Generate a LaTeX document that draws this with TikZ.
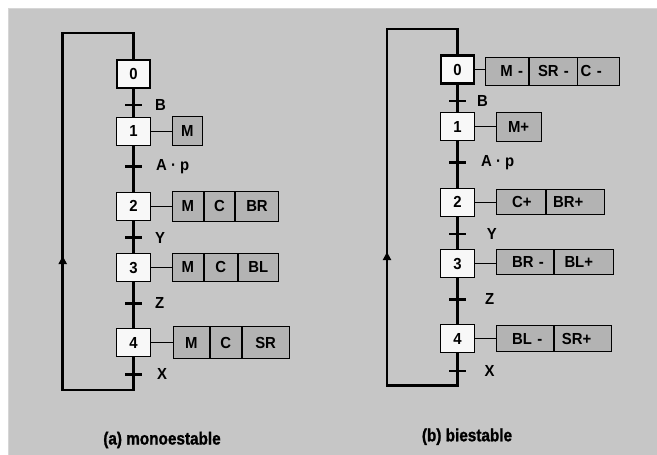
\documentclass[tikz,border=0pt]{standalone}
\usepackage{fontspec}
\setmainfont{Liberation Sans}
\newfontfamily\nodefont{Liberation Sans Bold}[FakeStretch=0.93]
\newfontfamily\capfont{Liberation Sans Bold}[FakeStretch=0.87, FakeBold=1.2]
\usetikzlibrary{arrows.meta}
\definecolor{bggray}{HTML}{C6C6C6}
\definecolor{bgedge}{HTML}{D6D6D6}
\definecolor{actgray}{HTML}{B3B3B3}
\definecolor{stepwhite}{HTML}{F8F8F8}
\begin{document}
\begin{tikzpicture}[x=1pt,y=-1pt,
  every node/.style={font=\nodefont\fontsize{16}{18}\selectfont},
  stepbox/.style={draw, fill=stepwhite, line width=0.9pt, minimum width=34pt, minimum height=28pt, inner sep=0pt},
  initstep/.style={stepbox, line width=2.6pt, minimum width=33pt, minimum height=28pt},
  cell/.style={draw, fill=actgray, line width=0.8pt, inner sep=0pt, anchor=west},
  lcell/.style={cell, inner xsep=0pt, text width=#1, minimum width=#1, align=left},
  trans/.style={fill=black, minimum width=17pt, minimum height=2.8pt, inner sep=0pt},
  lab/.style={anchor=west, inner sep=0pt},
  flow/.style={line width=2.6pt},
  link/.style={line width=0.8pt},
  caption/.style={font=\capfont\fontsize{17.6}{20}\selectfont}
]
\useasboundingbox (0,0) rectangle (657,455);
\fill[white] (0,0) rectangle (657,455);
\fill[bggray] (8,8) rectangle (657,455);
\draw[bgedge, line width=0.8pt] (8.4,455) -- (8.4,8.4) -- (657,8.4);

% ---------------- (a) monoestable ----------------
\node[initstep] (a0) at (133.5,74) {0};
\node[stepbox] (a1) at (133.5,131.2) {1};
\node[stepbox] (a2) at (133.5,206.3) {2};
\node[stepbox] (a3) at (133.5,267.8) {3};
\node[stepbox] (a4) at (133.5,342.8) {4};

\draw[flow] (a0) -- (a1);
\draw[flow] (a1) -- (a2);
\draw[flow] (a2) -- (a3);
\draw[flow] (a3) -- (a4);

\node[trans] (at1) at (133.5,105) {};
\node[trans] (at2) at (133.5,166.7) {};
\node[trans] (at3) at (133.5,237.7) {};
\node[trans] (at4) at (133.5,303.3) {};
\node[trans] (at5) at (133.5,374.3) {};
\node[lab] (al1) at (155,105) {B};
\node[lab] (al2) at (156,166.7) {A \textperiodcentered\ p};
\node[lab] (al3) at (155,237.7) {Y};
\node[lab] (al4) at (155,303.3) {Z};
\node[lab] (al5) at (157,374.3) {X};

\coordinate (aBL) at (62.7,390);
\coordinate (aTL) at (62.7,33);
\coordinate (aTR) at (133.5,33);
\coordinate (aArr) at (62.7,256);
\draw[flow] (a4.south) -- (a4.south |- aBL) -- (aBL) -- (aTL) -- (aTR) -- (a0.north);
\draw[flow, -{Triangle[length=8pt,width=8pt]}] (aBL) -- (aArr);

\node[cell, minimum width=30.6pt, minimum height=29pt] (a1m) at (171.7,130.5) {M};
\draw[link] (a1.east) -- (a1.east -| a1m.west);

\node[cell, minimum width=31.6pt, minimum height=29.3pt] (a2m) at (171.7,206.3) {M};
\node[cell, minimum width=30pt, minimum height=29.3pt] (a2c) at (a2m.east) {C};
\node[cell, minimum width=43.4pt, minimum height=29.3pt] (a2b) at (a2c.east) {BR};
\draw[link] (a2.east) -- (a2.east -| a2m.west);

\node[cell, minimum width=31.6pt, minimum height=28pt] (a3m) at (171.7,267) {M};
\node[cell, minimum width=32.7pt, minimum height=28pt] (a3c) at (a3m.east) {C};
\node[cell, minimum width=40.7pt, minimum height=28pt] (a3b) at (a3c.east) {BL};
\draw[link] (a3.east) -- (a3.east -| a3m.west);

\node[cell, minimum width=36.6pt, minimum height=31.6pt] (a4m) at (172.7,342.5) {M};
\node[cell, minimum width=30.7pt, minimum height=31.6pt] (a4c) at (a4m.east) {C};
\node[cell, minimum width=47.3pt, minimum height=31.6pt] (a4s) at (a4c.east) {SR};
\draw[link] (a4.east) -- (a4.east -| a4m.west);

\node[caption] (acap) at (162,440) {(a) monoestable};

% ---------------- (b) biestable ----------------
\node[initstep] (b0) at (457.5,69.7) {0};
\node[stepbox] (b1) at (457.5,126.7) {1};
\node[stepbox] (b2) at (457.5,202.2) {2};
\node[stepbox] (b3) at (457.5,263.8) {3};
\node[stepbox] (b4) at (457.5,338.8) {4};

\draw[flow] (b0) -- (b1);
\draw[flow] (b1) -- (b2);
\draw[flow] (b2) -- (b3);
\draw[flow] (b3) -- (b4);

\node[trans] (bt1) at (457.5,101) {};
\node[trans] (bt2) at (457.5,162.7) {};
\node[trans] (bt3) at (457.5,234) {};
\node[trans] (bt4) at (457.5,299.3) {};
\node[trans] (bt5) at (457.5,371) {};
\node[lab] (bl1) at (477,101) {B};
\node[lab] (bl2) at (481,162.7) {A \textperiodcentered\ p};
\node[lab] (bl3) at (486.7,234) {Y};
\node[lab] (bl4) at (485,299.3) {Z};
\node[lab] (bl5) at (484.3,371) {X};

\coordinate (bBL) at (387,385.7);
\coordinate (bTL) at (387,29);
\coordinate (bTR) at (457.5,29);
\coordinate (bArr) at (387,252);
\draw[flow] (b4.south) -- (b4.south |- bBL) -- (bBL) -- (bTL) -- (bTR) -- (b0.north);
\draw[flow, -{Triangle[length=8pt,width=8pt]}] (bBL) -- (bArr);

\node[lcell=43.3pt, minimum height=27.7pt] (b0m) at (485,71.2) {\hspace*{15pt}M -};
\node[lcell=47.4pt, minimum height=27.7pt] (b0s) at (b0m.east) {\hspace*{8.5pt}SR -};
\node[lcell=41.6pt, minimum height=27.7pt] (b0c) at (b0s.east) {\hspace*{3pt}C -};
\draw[link] (b0.east) -- (b0.east -| b0m.west);

\node[cell, minimum width=45pt, minimum height=28.7pt] (b1m) at (495.7,126.7) {M+};
\draw[link] (b1.east) -- (b1.east -| b1m.west);

\node[lcell=49.3pt, minimum height=25.3pt] (b2c) at (495.7,201.7) {\hspace*{16pt}C+};
\node[lcell=58.3pt, minimum height=25.3pt] (b2b) at (b2c.east) {\hspace*{7pt}BR+};
\draw[link] (b2.east) -- (b2.east -| b2c.west);

\node[lcell=57.6pt, minimum height=25pt] (b3r) at (495.7,261.8) {\hspace*{16pt}BR -};
\node[lcell=59pt, minimum height=25pt] (b3l) at (b3r.east) {\hspace*{10pt}BL+};
\draw[link] (b3.east) -- (b3.east -| b3r.west);

\node[lcell=57pt, minimum height=26pt] (b4l) at (495.7,338.7) {\hspace*{16pt}BL -};
\node[lcell=57.3pt, minimum height=26pt] (b4s) at (b4l.east) {\hspace*{8pt}SR+};
\draw[link] (b4.east) -- (b4.east -| b4l.west);

\node[caption] (bcap) at (467,436.7) {(b) biestable};
\end{tikzpicture}
\end{document}
